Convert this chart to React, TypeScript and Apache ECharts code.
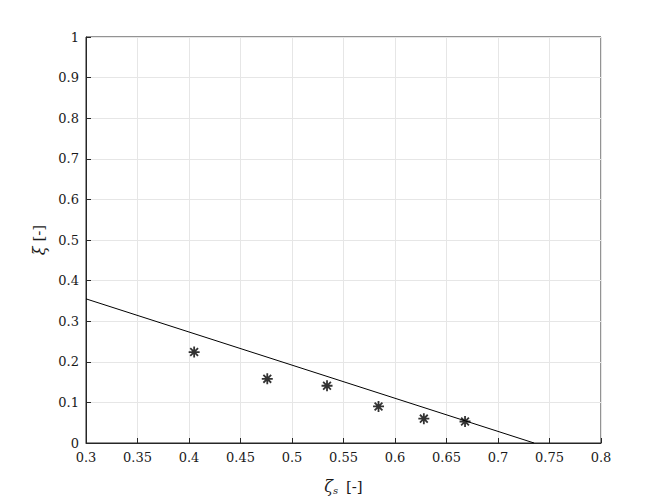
import React, { useEffect, useRef } from "react";
import * as echarts from "echarts";

const pointsX = [0.405, 0.476, 0.534, 0.584, 0.628, 0.668];
const pointsY = [0.224, 0.158, 0.141, 0.090, 0.060, 0.053];
const lineX = [0.3, 0.735];
const lineY = [0.355, 0.0];

const FONT = "DejaVu Serif";
const STAR = "path://M5 0 L5 10 M0 5 L10 5 M1.46 1.46 L8.54 8.54 M1.46 8.54 L8.54 1.46";

export default function App() {
  const ref = useRef<HTMLDivElement>(null);
  useEffect(() => {
    if (!ref.current) return;
    const chart = echarts.init(ref.current, undefined, { renderer: "svg" });
    const axisCommon = {
      axisLine: { show: true, onZero: false, lineStyle: { color: "#262626", width: 1 } },
      axisTick: { show: true, inside: true, length: 5, lineStyle: { color: "#262626" } },
      splitLine: { show: true, lineStyle: { color: "#e6e6e6", width: 1 } },
    };
    chart.setOption({
      animation: false,
      backgroundColor: "#ffffff",
      textStyle: { fontFamily: FONT },
      grid: {
        left: 86, right: 63, top: 37, bottom: 55,
        containLabel: false,
        outerBoundsMode: "none",
        show: true, borderColor: "#262626", borderWidth: 1, backgroundColor: "#fff",
      },
      xAxis: {
        type: "value",
        min: 0.3,
        max: 0.8,
        interval: 0.05,
        ...axisCommon,
        axisLabel: { color: "#1a1a1a", fontFamily: FONT, fontSize: 13, margin: 8, formatter: (v: number) => String(+v.toFixed(2)) },
        name: "{i|ζ}{s|s} [-]",
        nameLocation: "middle",
        nameGap: 35,
        nameTextStyle: {
          color: "#1a1a1a",
          fontFamily: FONT,
          fontSize: 15,
          rich: {
            i: { fontFamily: FONT, fontSize: 16, fontStyle: "italic", color: "#1a1a1a" },
            s: { fontFamily: FONT, fontSize: 10, fontStyle: "italic", color: "#1a1a1a", verticalAlign: "bottom", padding: [7, 3, 0, 0] },
          },
        },
      },
      yAxis: {
        type: "value",
        min: 0,
        max: 1,
        interval: 0.1,
        ...axisCommon,
        axisLabel: { color: "#1a1a1a", fontFamily: FONT, fontSize: 13, margin: 7, formatter: (v: number) => String(+v.toFixed(1)) },
        name: "{i|ξ} [-]",
        nameLocation: "middle",
        nameGap: 32,
        nameRotate: 90,
        nameTextStyle: {
          color: "#1a1a1a",
          fontFamily: FONT,
          fontSize: 15,
          rich: { i: { fontFamily: FONT, fontSize: 16, fontStyle: "italic", color: "#1a1a1a" } },
        },
      },
      series: [
        {
          type: "line",
          data: lineX.map((x, i) => [x, lineY[i]]),
          symbol: "none",
          lineStyle: { color: "#000", width: 1 },
          z: 3,
        },
        {
          type: "scatter",
          data: pointsX.map((x, i) => [x, pointsY[i]]),
          symbol: STAR,
          symbolSize: 11,
          itemStyle: { color: "none", borderColor: "#000", borderWidth: 1.8 },
          z: 4,
        },
      ],
    });
    return () => chart.dispose();
  }, []);
  return <div ref={ref} style={{ width: 664, height: 498, position: "absolute", left: 0, top: 0 }} />;
}
